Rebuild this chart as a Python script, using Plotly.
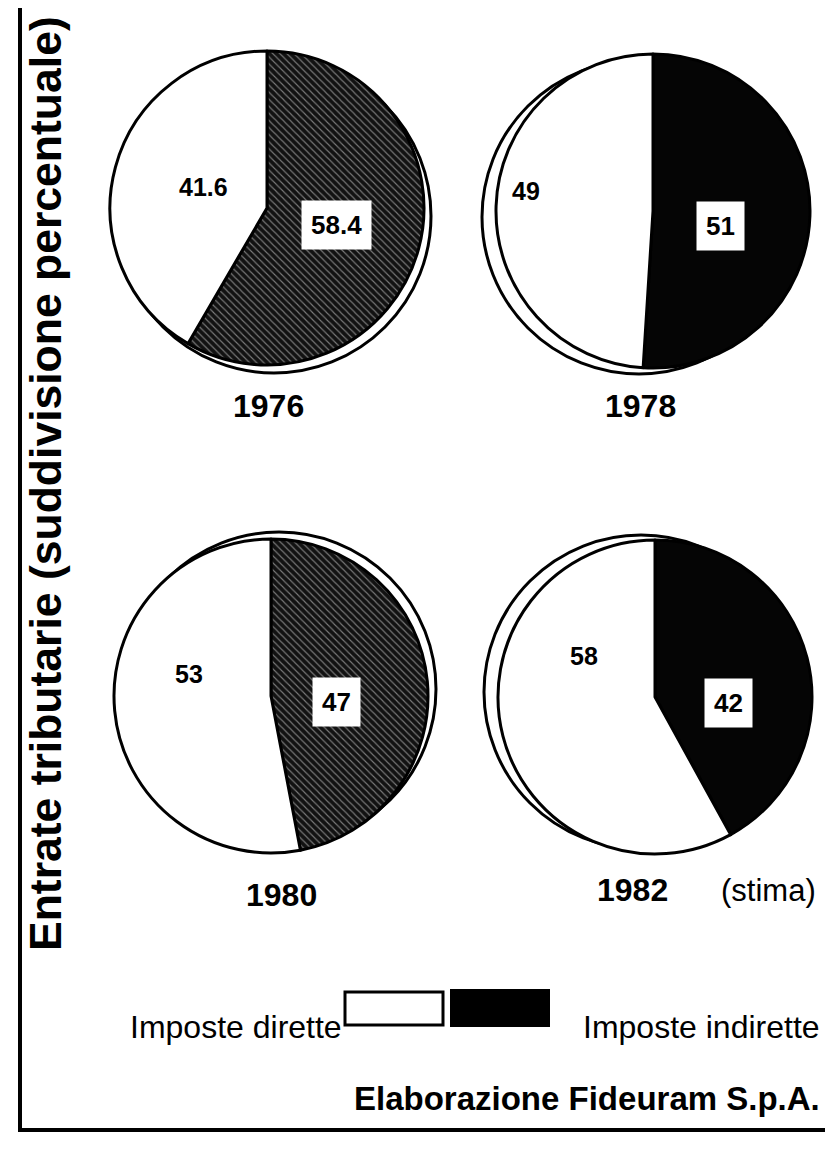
import plotly.graph_objects as go

# ---- data ----
years = ["1976", "1978", "1980", "1982"]
imposte_dirette = [41.6, 49, 53, 58]
imposte_indirette = [58.4, 51, 47, 42]
categories = ["Imposte dirette", "Imposte indirette"]
stima_note = "(stima)"
title_text = "Entrate tributarie (suddivisione percentuale)"
source_text = "Elaborazione Fideuram S.p.A."

# ---- layout constants (pixels) ----
W, H = 833, 1152
R = 157
centers = [(259, 200), (645, 203), (263, 688), (647, 689)]
shadow_off = [(7, 8), (-14, 6), (8, -7), (-14, -5)]
white_lab_off = [(-64, -14), (-127, -13), (-82, -15), (-71, -34)]
dark_lab_off = [(69, 24), (67, 22), (65, 13), (73, 13)]
year_pos = [(260, 405), (632, 405), (273, 894), (624, 889)]
hatched = [True, False, True, False]
TY = -7  # text vertical correction

def px(x):
    return x / W

def py(y):
    return 1 - y / H

def ann(x, y, text, size, bold=False, xanchor="center", **kw):
    font = dict(family="Liberation Sans", size=size, color="black")
    if bold:
        font["weight"] = "bold"
    d = dict(x=px(x), y=py(y + TY), xref="paper", yref="paper", text=text,
             showarrow=False, xanchor=xanchor, yanchor="middle", font=font)
    d.update(kw)
    return d

fig = go.Figure()
shapes = []
annotations = []

for i, yr in enumerate(years):
    cx, cy = centers[i]
    if hatched[i]:
        dark = "#121212"
        pattern = dict(shape=["\\", ""], bgcolor=[dark, "#ffffff"],
                       fgcolor=["#7a7a7a", "#000000"], size=5, solidity=0.22)
    else:
        dark = "#050505"
        pattern = dict(shape=["", ""])
    # indirect slice first (right side, clockwise from 12 o'clock), direct fills the left
    fig.add_trace(go.Pie(
        labels=[categories[1], categories[0]],
        values=[imposte_indirette[i], imposte_dirette[i]],
        sort=False, direction="clockwise", rotation=0,
        textinfo="none", hoverinfo="label+value",
        marker=dict(colors=[dark, "#ffffff"], line=dict(color="black", width=3),
                    pattern=pattern),
        domain=dict(x=[px(cx - R), px(cx + R)], y=[py(cy + R), py(cy - R)]),
        showlegend=False,
    ))
    ox, oy = shadow_off[i]
    shapes.append(dict(type="circle", xref="paper", yref="paper", layer="below",
                       x0=px(cx - R + ox), x1=px(cx + R + ox),
                       y0=py(cy + R + oy), y1=py(cy - R + oy),
                       line=dict(color="black", width=3), fillcolor="white"))
    wx, wy = white_lab_off[i]
    annotations.append(ann(cx + wx, cy + wy, f"{imposte_dirette[i]:g}", 25, bold=True))
    dx, dy = dark_lab_off[i]
    annotations.append(ann(cx + dx, cy + dy, f"{imposte_indirette[i]:g}", 26, bold=True,
                           bgcolor="white", borderpad=9))
    yx, yy = year_pos[i]
    annotations.append(ann(yx, yy, yr, 32, bold=True))

annotations.append(ann(760, 889, stima_note, 31))

# vertical title
annotations.append(ann(37, 483, title_text, 44.5, bold=True, textangle=-90))

# legend
shapes.append(dict(type="rect", xref="paper", yref="paper",
                   x0=px(337), x1=px(435), y0=py(1017), y1=py(984),
                   line=dict(color="black", width=3), fillcolor="white"))
shapes.append(dict(type="rect", xref="paper", yref="paper",
                   x0=px(443), x1=px(541), y0=py(1018), y1=py(982),
                   line=dict(color="black", width=2), fillcolor="black"))
annotations.append(ann(336, 1026, categories[0], 32, xanchor="right"))
annotations.append(ann(814, 1026, categories[1], 32, xanchor="right"))

# source
annotations.append(ann(814, 1097, source_text, 33, bold=True, xanchor="right"))

# frame
shapes.append(dict(type="rect", xref="paper", yref="paper", layer="below",
                   x0=px(12), x1=px(820), y0=py(1122), y1=py(-10),
                   line=dict(color="black", width=4), fillcolor="rgba(0,0,0,0)"))

fig.update_layout(
    width=W, height=H,
    margin=dict(l=0, r=0, t=0, b=0),
    paper_bgcolor="white", plot_bgcolor="white",
    shapes=shapes, annotations=annotations,
)

fig.write_html("out.html")
